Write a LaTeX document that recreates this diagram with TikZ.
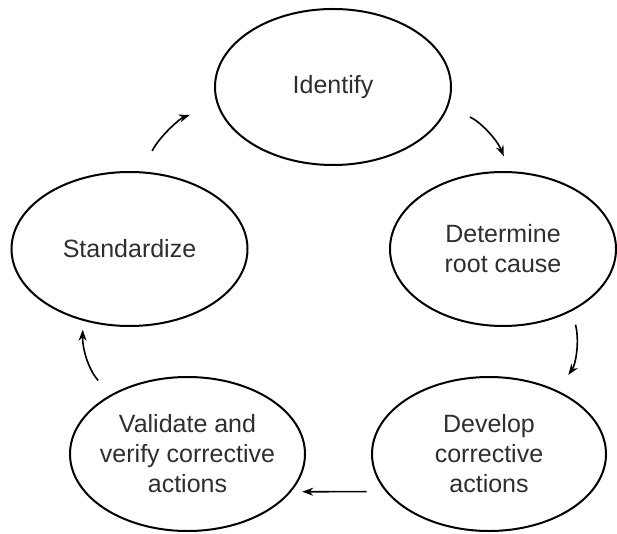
\documentclass[tikz,border=0pt]{standalone}
\usepackage{fontspec}
\setmainfont{Liberation Sans}
\usetikzlibrary{shapes.geometric,arrows.meta}

\begin{document}
\begin{tikzpicture}[x=1pt,y=1pt,
  stage/.style={draw=black,ellipse,line width=2pt,inner xsep=-14pt,inner ysep=0pt,
    align=center,font=\fontsize{25}{30}\selectfont,text=black!82},
  cycarrow/.style={line width=1.6pt,-{Stealth[length=11pt,width=8pt]}}]
\useasboundingbox (0,0) rectangle (617,533);
% Drawing stages
\node[stage,minimum width=236pt,minimum height=156pt] (idf) at (333,446) {Identify};
\node[stage,minimum width=226pt,minimum height=154pt] (det) at (503,284) {Determine\\root cause};
\node[stage,minimum width=234pt,minimum height=154pt] (dev) at (489,79) {Develop\\corrective\\actions};
\node[stage,minimum width=235pt,minimum height=154pt] (val) at (187.5,79) {Validate and\\verify corrective\\actions};
\node[stage,minimum width=236pt,minimum height=154pt] (std) at (129.5,284) {Standardize};
% Done with stages; drawing cycle arrows
\draw[cycarrow,shorten <=23pt,shorten >=29pt] (std.81) to[bend left=22] (idf.189);
\draw[cycarrow,shorten <=24pt,shorten >=16pt] (idf.350) to[bend left=22] (det.85);
\draw[cycarrow,shorten <=14pt,shorten >=19pt] (det.318) to[bend left=25] (dev.43.5);
\draw[cycarrow,shorten <=19pt,shorten >=11pt] (dev.200.5) -- (val.-20.4);
\draw[cycarrow,shorten <=19pt,shorten >=9pt] (val.142.5) to[bend left=22] (std.237.3);
% Done with arrows
\end{tikzpicture}
\end{document}
